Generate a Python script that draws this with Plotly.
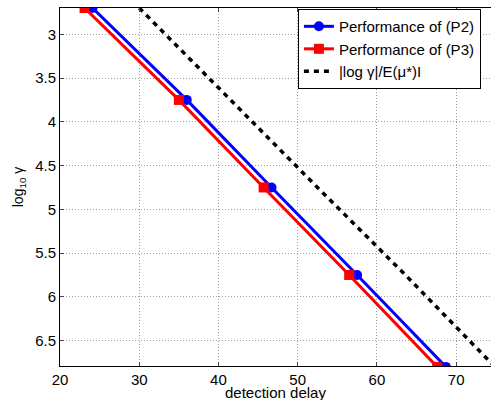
import plotly.graph_objects as go

log_gamma = [2.7, 3.75, 4.75, 5.75, 6.8]
delay_p2 = [24.1, 36.0, 46.7, 57.5, 68.7]
delay_p3 = [23.1, 35.0, 45.7, 56.5, 67.6]
delay_bound = [30.0, 41.5, 52.5, 63.6, 74.9]

x_ticks = [20, 30, 40, 50, 60, 70]
y_ticks = [3, 3.5, 4, 4.5, 5, 5.5, 6, 6.5]
y_ticktext = ["3", "3.5", "4", "4.5", "5", "5.5", "6", "6.5"]

fig = go.Figure()
fig.add_trace(go.Scatter(x=delay_p2, y=log_gamma, mode="lines+markers",
                         name="Performance of (P2)",
                         line=dict(color="#0000FF", width=3),
                         marker=dict(symbol="circle", size=10, color="#0000FF"),
                         cliponaxis=True))
fig.add_trace(go.Scatter(x=delay_p3, y=log_gamma, mode="lines+markers",
                         name="Performance of (P3)",
                         line=dict(color="#FF0000", width=3),
                         marker=dict(symbol="square", size=10, color="#FF0000"),
                         cliponaxis=True))
fig.add_trace(go.Scatter(x=delay_bound, y=log_gamma, mode="lines",
                         name="|log γ|/E(μ*)I",
                         line=dict(color="black", width=3.5, dash="5px,5px"),
                         cliponaxis=True))

FAM = "Liberation Sans, Arial, sans-serif"
GRID = dict(showgrid=True, gridcolor="#a0a0a0", griddash="1px,2px", gridwidth=1)
fig.update_layout(
    width=491, height=400,
    margin=dict(l=60, r=0, t=8, b=34),
    plot_bgcolor="white", paper_bgcolor="white",
    font=dict(family=FAM, size=15, color="black"),
    showlegend=True,
    legend=dict(x=0.552, y=0.997, xanchor="left", yanchor="top",
                bgcolor="white", bordercolor="black", borderwidth=1,
                font=dict(family=FAM, size=15),
                tracegroupgap=0, itemwidth=30),
    xaxis=dict(range=[20, 74.4], tickvals=x_ticks, ticks="inside", ticklen=4,
               showline=True, linecolor="black", linewidth=1, mirror="ticks",
               zeroline=False, **GRID),
    yaxis=dict(range=[6.79, 2.7], tickvals=y_ticks, ticktext=y_ticktext,
               ticks="inside", ticklen=4,
               showline=True, linecolor="black", linewidth=1, mirror=False,
               zeroline=False, **GRID,
               title=dict(text="log<sub>10</sub> γ", standoff=8, font=dict(size=14))),
)
fig.add_annotation(text="detection delay", xref="paper", yref="paper",
                   x=0.5, y=0, yshift=-26, xanchor="center", yanchor="middle",
                   showarrow=False, font=dict(family=FAM, size=15))

fig.write_html("out.html", config={"displayModeBar": False},
               post_script="document.body.style.margin='0';document.body.style.overflow='hidden';")
